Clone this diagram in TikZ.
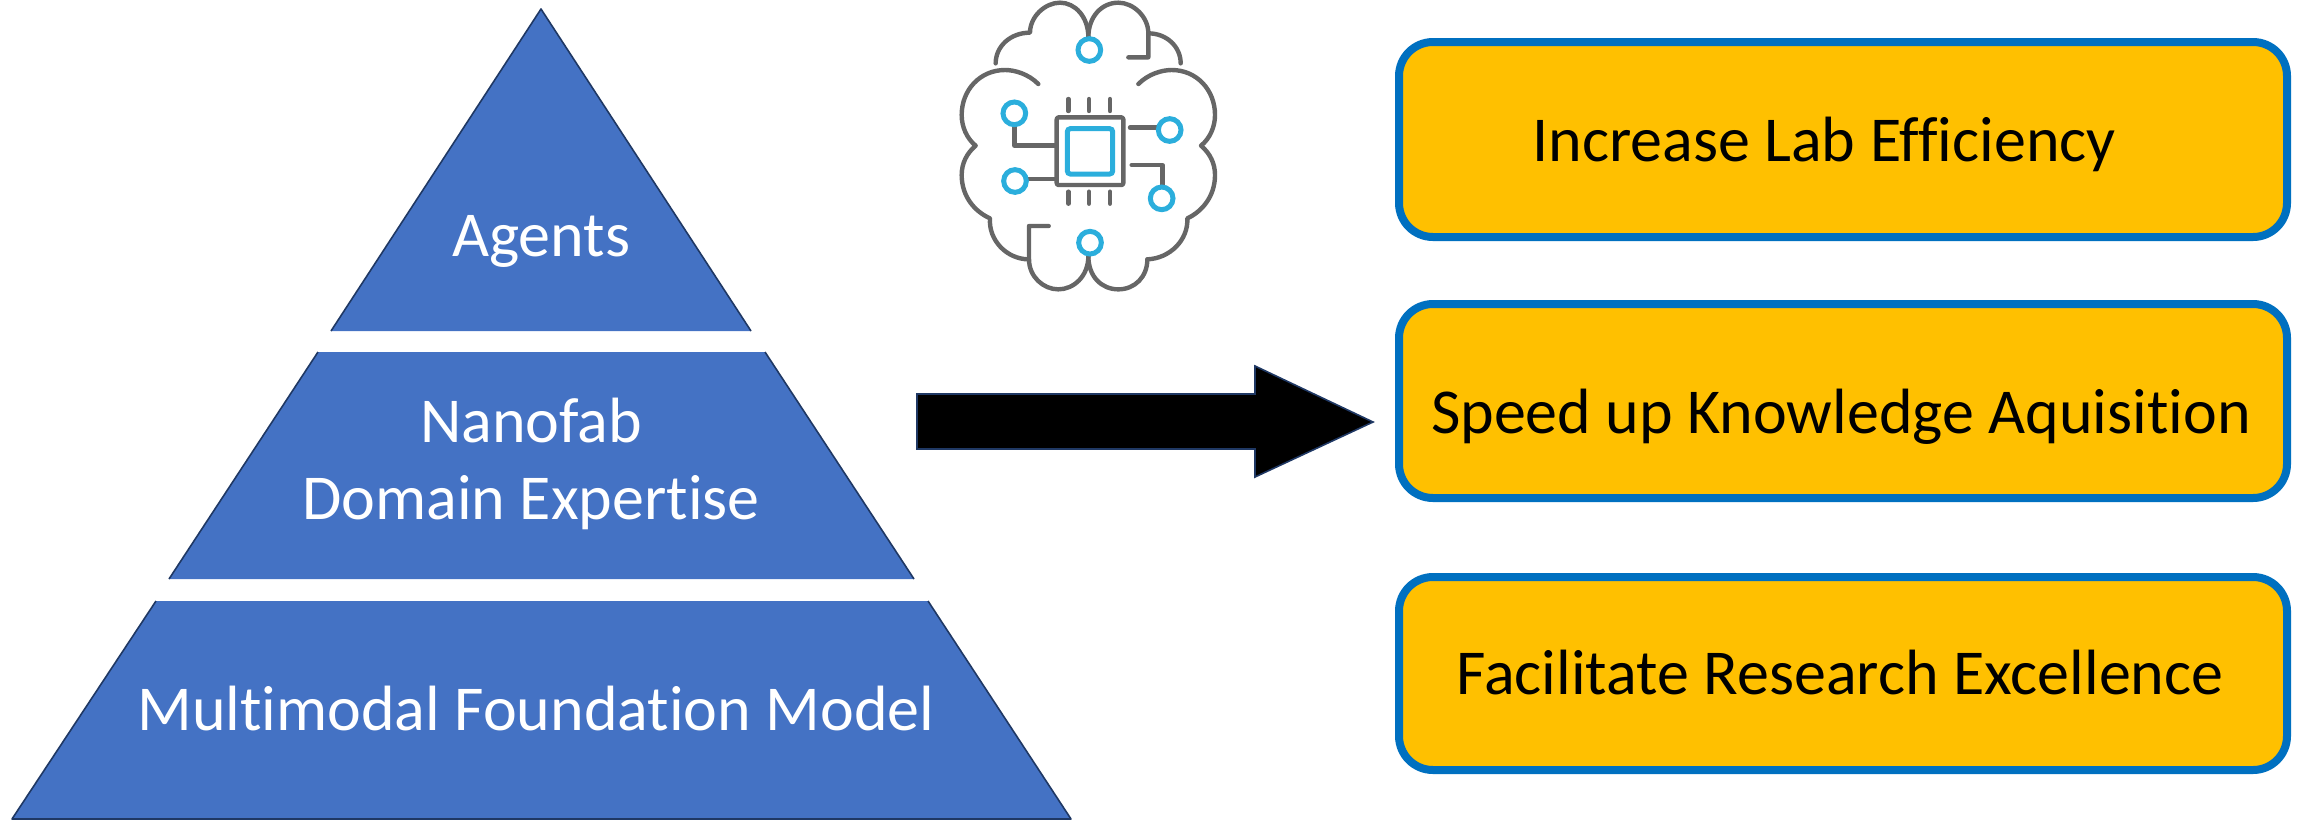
\documentclass[tikz,border=0pt]{standalone}
\usepackage{fontspec}
\setmainfont{Carlito}[Ligatures=NoCommon]
\definecolor{pyr}{HTML}{4472C4}
\definecolor{pyredge}{HTML}{1F3864}
\definecolor{boxfill}{HTML}{FFC000}
\definecolor{boxedge}{HTML}{0070C0}
\definecolor{icgray}{HTML}{666666}
\definecolor{icblue}{HTML}{2BAEDC}
\tikzset{
  tier/.style={fill=pyr,draw=none},
  tierside/.style={draw=pyredge,line width=0.8pt,line join=round},
  goal/.style={fill=boxfill,draw=boxedge,line width=4pt,rounded corners=17pt},
  whitelabel/.style={anchor=base,text=white,font=\fontsize{32}{38}\selectfont,inner sep=0pt},
  blacklabel/.style={anchor=base,text=black,font=\fontsize{32}{38}\selectfont,inner sep=0pt},
  icline/.style={draw=icgray,line width=2.2pt,line cap=round,line join=round},
  icring/.style={draw=icblue,line width=2.5pt},
}
\begin{document}
\begin{tikzpicture}[x=0.5pt,y=-0.5pt]
\useasboundingbox (0,0) rectangle (2303,821);
% pyramid
\fill[tier] (541,9) -- (751,331) -- (331,331) -- cycle;
\draw[tierside] (331,331) -- (541,9) -- (751,331);
\fill[tier] (318,352) -- (765,352) -- (914,579) -- (169,579) -- cycle;
\draw[tierside] (318,352) -- (169,579);
\draw[tierside] (765,352) -- (914,579);
\fill[tier] (156,601) -- (928,601) -- (1071,819) -- (12,819) -- cycle;
\draw[tierside] (156,601) -- (12,819) -- (1071,819) -- (928,601);
\node[whitelabel] (agents) at (541,256) {Agents};
\node[whitelabel] (nano) at (531,442) {Nanofab};
\node[whitelabel] (domain) at (531,519) {Domain Expertise};
\node[whitelabel] (multi) at (536,730) {Multimodal Foundation Model};
% arrow
\filldraw[fill=black,draw=pyredge,line width=0.8pt,line join=miter]
  (917,394) -- (1255,394) -- (1255,366) -- (1373,422) -- (1255,477) -- (1255,449) -- (917,449) -- cycle;
% goals
\draw[goal] (1399,42) rectangle (2287,237);
\draw[goal] (1399,304) rectangle (2287,498);
\draw[goal] (1399,577) rectangle (2287,770);
\node[blacklabel] (g1) at (1824,161) {Increase Lab Efficiency};
\node[blacklabel] (g2) at (1841,433) {Speed up Knowledge Aquisition};
\node[blacklabel] (g3) at (1840,694) {Facilitate Research Excellence};
% icon
\begin{scope}[shift={(930,0)},x=0.16667pt,y=-0.16667pt]
  % top lobes
  \draw[icline] (197,190) .. controls (197,140) and (240,98) .. (300,98)
     .. controls (300,50) and (345,8) .. (390,8)
     .. controls (435,8) and (475,50) .. (475,112);
  \draw[icline] (475,112) .. controls (475,50) and (515,8) .. (565,8)
     .. controls (610,8) and (655,50) .. (655,100) -- (655,172) -- (595,172);
  \draw[icline] (655,100) .. controls (710,100) and (752,140) .. (752,190);
  % left side
  \draw[icline] (325,252) .. controls (295,222) and (255,210) .. (225,210)
     .. controls (150,210) and (95,270) .. (95,345)
     .. controls (95,380) and (110,415) .. (137,437)
     .. controls (110,460) and (95,490) .. (95,525)
     .. controls (95,590) and (135,635) .. (180,655)
     .. controls (175,720) and (230,778) .. (297,778);
  % right side
  \draw[icline] (625,252) .. controls (655,222) and (695,210) .. (725,210)
     .. controls (800,210) and (855,270) .. (855,345)
     .. controls (855,380) and (840,415) .. (813,437)
     .. controls (840,460) and (855,490) .. (855,525)
     .. controls (855,590) and (815,635) .. (772,655)
     .. controls (775,720) and (720,775) .. (652,778);
  % bottom lobes
  \draw[icline] (356,678) -- (297,678) -- (297,778)
     .. controls (297,830) and (340,868) .. (385,868)
     .. controls (430,868) and (475,830) .. (475,768);
  \draw[icline] (475,768) .. controls (475,830) and (515,868) .. (565,868)
     .. controls (615,868) and (652,830) .. (652,778);
  % chip
  \draw[icline,rounded corners=1pt] (380,352) rectangle (580,555);
  \draw[icring,rounded corners=1.5pt] (412,386) rectangle (548,522);
  \foreach \px in {415,477,540} {
    \draw[icline] (\px,297) -- (\px,333);
    \draw[icline] (\px,575) -- (\px,611);
  }
  % traces
  \draw[icline] (253,375) -- (253,437) -- (375,437);
  \draw[icline] (292,537) -- (375,537);
  \draw[icline] (600,383) -- (682,383);
  \draw[icline] (605,495) -- (697,495) -- (697,558);
  % rings
  \draw[icring] (478,150) circle[radius=34];
  \draw[icring] (253,340) circle[radius=34];
  \draw[icring] (255,543) circle[radius=34];
  \draw[icring] (719,390) circle[radius=34];
  \draw[icring] (695,595) circle[radius=34];
  \draw[icring] (480,728) circle[radius=34];
\end{scope}
\end{tikzpicture}
\end{document}
